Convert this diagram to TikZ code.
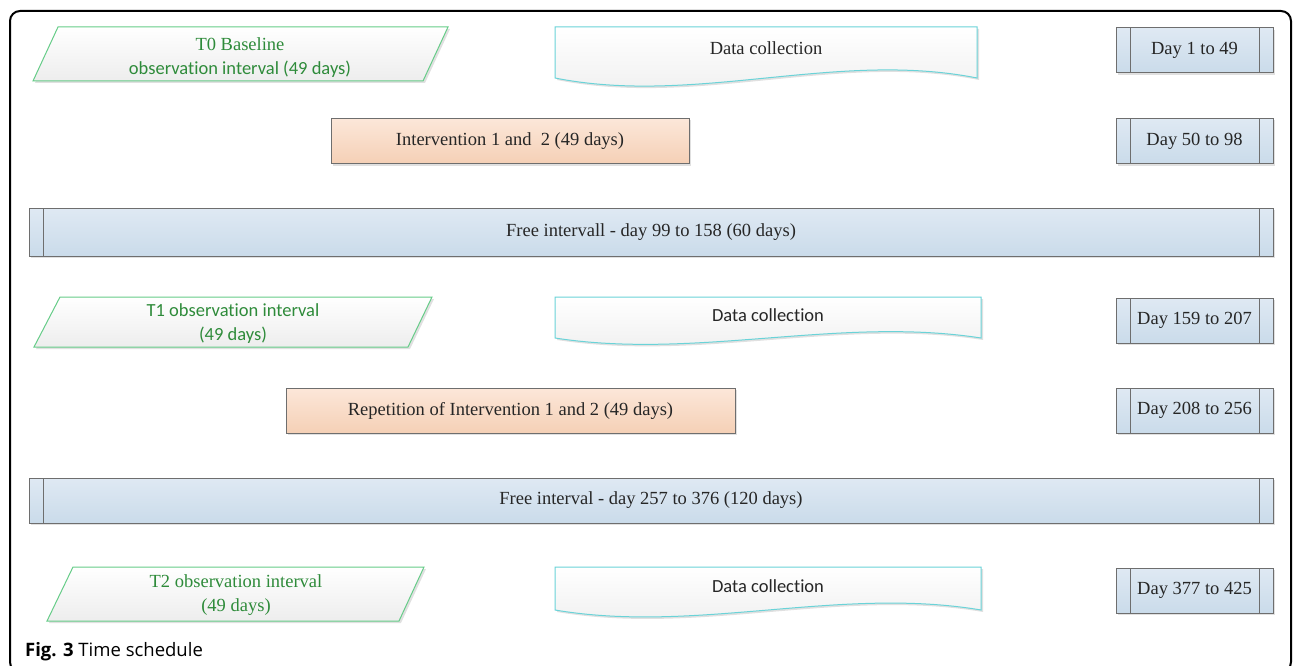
\documentclass[tikz,border=0pt]{standalone}
\usepackage{fontspec}
\setmainfont{Liberation Serif}
\newfontfamily\calfont{Carlito}[Ligatures=CommonOff]
\newfontfamily\capfont{Open Sans}
\usepackage{tikz}
\usetikzlibrary{shadows}
\definecolor{obsgreen}{HTML}{66CC88}
\definecolor{obstext}{HTML}{2E8B3A}
\definecolor{doccyan}{HTML}{6AD3D8}
\definecolor{boxgray}{HTML}{6E6E6E}
\definecolor{bluetop}{HTML}{DFE9F3}
\definecolor{bluebot}{HTML}{CADBEA}
\definecolor{peachtop}{HTML}{FCE7D9}
\definecolor{peachbot}{HTML}{F5D0B6}
\tikzset{
  txt/.style={font=\fontsize{18.5}{24}\selectfont, align=center, inner sep=0pt, text=black!85},
  shd/.style={drop shadow={shadow xshift=2pt, shadow yshift=-2pt, opacity=0.12, fill=black}},
  obs/.style={draw=obsgreen, line width=1pt, top color=white, bottom color=black!7, shd},
  obslbl/.style={txt, text=obstext},
  doc/.style={draw=doccyan, line width=1pt, top color=white, bottom color=black!7, shd},
  proc/.style={draw=boxgray, line width=1pt, top color=bluetop, bottom color=bluebot,
    shd, txt, minimum height=45pt,
    path picture={
      \draw[boxgray, line width=1pt]
        ([xshift=14pt]path picture bounding box.north west) -- ([xshift=14pt]path picture bounding box.south west)
        ([xshift=-14pt]path picture bounding box.north east) -- ([xshift=-14pt]path picture bounding box.south east);
    }},
  day/.style={proc, minimum width=157pt},
  interv/.style={draw=boxgray, line width=1pt, top color=peachtop, bottom color=peachbot,
    shd, txt, minimum height=45pt}
}

\begin{document}
\begin{tikzpicture}[x=1pt, y=1pt]
  \useasboundingbox (0,0) rectangle (1293,-666);
  % outer frame
  \draw[line width=2pt, rounded corners=10pt] (10,-11) rectangle (1291,-672);

  % observation intervals
  \path[obs] (33,-81) -- (58,-27) -- (448,-27) -- (423,-81) -- cycle;
  \node[obslbl] (t0) at (240,-57.5)
    {T0 Baseline\\{\calfont observation interval (49 days)}};
  \path[obs] (34,-347) -- (60,-297) -- (432,-297) -- (408,-347) -- cycle;
  \node[obslbl] (t1) at (233,-323.5)
    {\calfont T1 observation interval\\\calfont (49 days)};
  \path[obs] (47,-621) -- (73,-567) -- (424,-567) -- (399,-621) -- cycle;
  \node[obslbl] (t2) at (236,-595)
    {T2 observation interval\\(49 days)};

  % data collection
  \path[doc] (555,-27) -- (977,-27) -- (977,-78)
    .. controls (836,-50) and (696,-106) .. (555,-78) -- cycle;
  \node[txt] (dc1) at (766,-48) {Data collection};
  \path[doc] (555,-297) -- (981,-297) -- (981,-338)
    .. controls (839,-316) and (697,-360) .. (555,-338) -- cycle;
  \node[txt] (dc2) at (768,-315) {\calfont Data collection};
  \path[doc] (555,-567) -- (981,-567) -- (981,-610)
    .. controls (839,-586) and (697,-634) .. (555,-610) -- cycle;
  \node[txt] (dc3) at (768,-586) {\calfont Data collection};

  % day ranges
  \node[day] (d1) at (1194.5,-50.5) {Day 1 to 49};
  \node[day] (d2) at (1194.5,-141) {Day 50 to 98};
  \node[day] (d3) at (1194.5,-320.5) {Day 159 to 207};
  \node[day] (d4) at (1194.5,-410.5) {Day 208 to 256};
  \node[day] (d5) at (1194.5,-590.5) {Day 377 to 425};

  % interventions
  \node[interv, minimum width=358pt] (iv1) at (510,-141) {Intervention 1 and\ \ 2 (49 days)};
  \node[interv, minimum width=449pt] (iv2) at (510.5,-410.5) {Repetition of Intervention 1 and 2 (49 days)};

  % free intervals
  \node[proc, minimum width=1244pt, minimum height=48pt] (f1) at (651,-232)
    {Free intervall - day 99 to 158 (60 days)};
  \node[proc, minimum width=1244pt] (f2) at (651,-500.5)
    {Free interval - day 257 to 376 (120 days)};

  \node[anchor=base west, inner sep=0pt, font=\capfont\fontsize{18.5}{22}\selectfont] (cap)
    at (25,-656) {\textbf{Fig. 3} Time schedule};
\end{tikzpicture}
\end{document}
